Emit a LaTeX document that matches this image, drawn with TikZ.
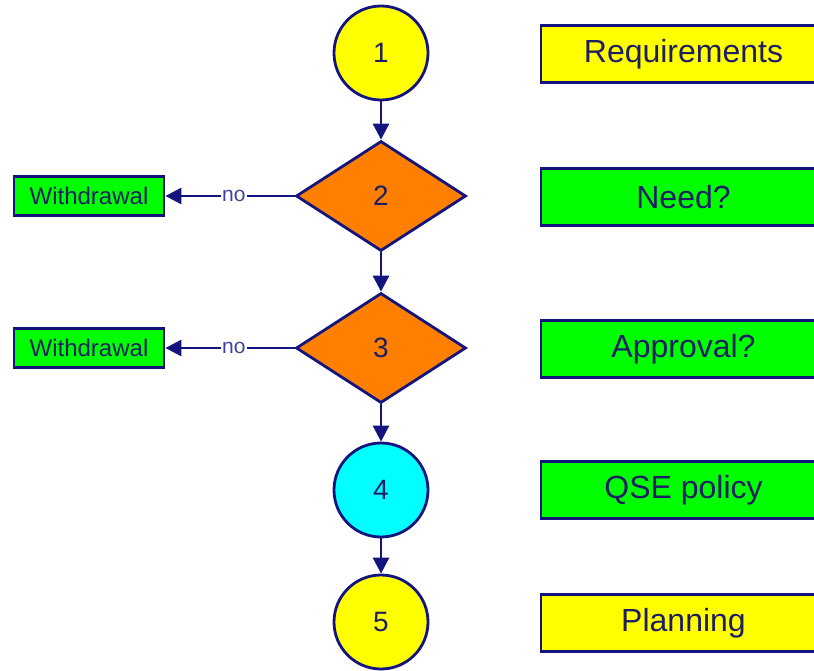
\documentclass[tikz,border=0pt]{standalone}
\usepackage{fontspec}
\setmainfont{Liberation Sans}
\usetikzlibrary{shapes.geometric,arrows.meta}
\definecolor{navy}{HTML}{14147F}
\definecolor{txt}{HTML}{1E1E64}
\definecolor{cyel}{HTML}{FFFF00}
\definecolor{cgrn}{HTML}{00FF00}
\definecolor{corg}{HTML}{FF8000}
\definecolor{ccyn}{HTML}{00FFFF}
\tikzset{
  base/.style={draw=navy, line width=2.8pt, text=txt, inner sep=0pt},
  circ/.style={base, circle, minimum size=94pt, font=\fontsize{28}{32}\selectfont},
  dia/.style={base, diamond, fill=corg, minimum width=170pt, minimum height=110pt, font=\fontsize{28}{32}\selectfont},
  rbox/.style={base, rectangle, minimum width=285pt, minimum height=57pt, font=\fontsize{32}{37}\selectfont},
  wbox/.style={base, rectangle, fill=cgrn, minimum width=150pt, minimum height=39pt, font=\fontsize{24}{28}\selectfont},
  conn/.style={draw=navy, line width=2.8pt, -{Triangle[length=16pt,width=16pt]}},
  nolab/.style={fill=white, text=navy!80, inner sep=1pt, font=\fontsize{21}{24}\selectfont}
}
\begin{document}
\begin{tikzpicture}[x=1pt,y=-1pt]
\useasboundingbox (0,0) rectangle (814,671);
\clip (0,0) rectangle (814,671);
\node[circ, fill=cyel] (c1) at (381,53) {1};
\node[dia] (d2) at (381,196) {2};
\node[dia] (d3) at (381,348) {3};
\node[circ, fill=ccyn] (c4) at (381,490) {4};
\node[circ, fill=cyel] (c5) at (381,622) {5};
\node[wbox] (w2) at (89,196) {Withdrawal};
\node[wbox] (w3) at (89,348) {Withdrawal};
\node[rbox, fill=cyel] (r1) at (683.5,54) {Requirements};
\node[rbox, fill=cgrn] (r2) at (683.5,197) {Need?};
\node[rbox, fill=cgrn] (r3) at (683.5,349) {Approval?};
\node[rbox, fill=cgrn] (r4) at (683.5,490) {QSE policy};
\node[rbox, fill=cyel] (r5) at (683.5,623) {Planning};
\draw[conn] (c1) -- (d2);
\draw[conn] (d2) -- (d3);
\draw[conn] (d3) -- (c4);
\draw[conn] (c4) -- (c5);
\draw[conn] (d2.west) -- node[nolab, pos=0.47] {no} (w2.east);
\draw[conn] (d3.west) -- node[nolab, pos=0.47] {no} (w3.east);
\end{tikzpicture}
\end{document}
